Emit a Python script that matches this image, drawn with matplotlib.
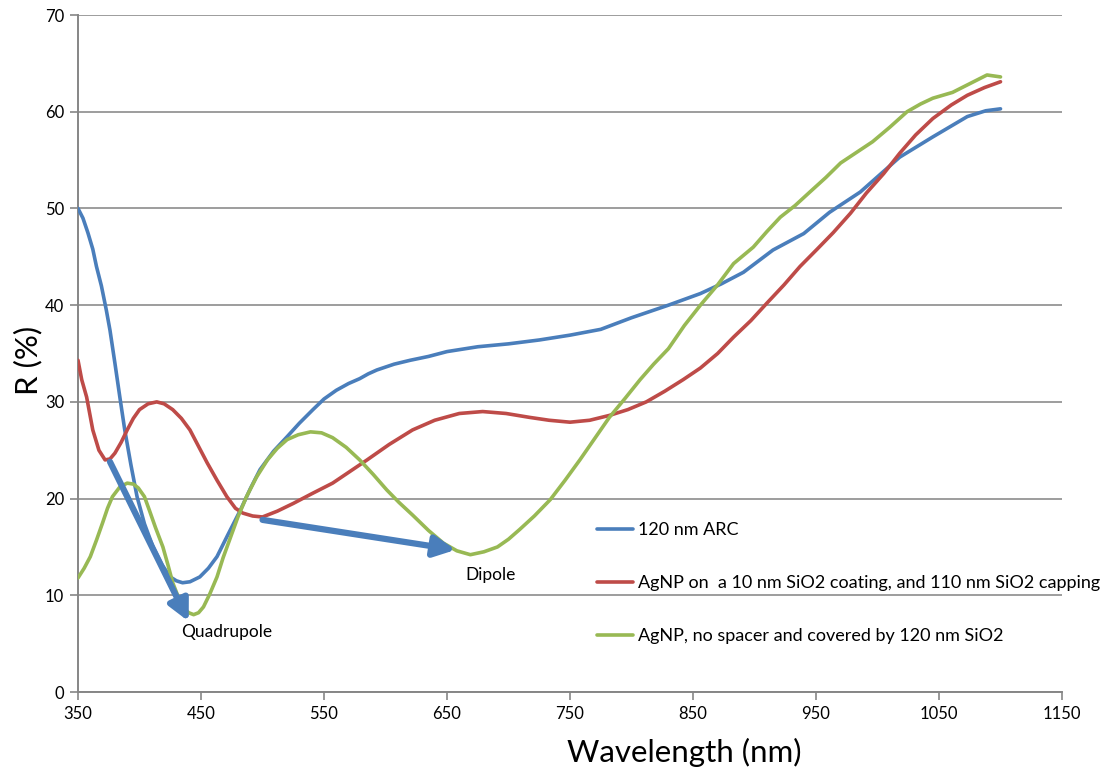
import matplotlib
matplotlib.use("Agg")
import matplotlib.pyplot as plt

plt.rcParams['font.family'] = ['Lato', 'DejaVu Sans']

# ---- data ----
blue_x = [350, 354, 358, 362, 365, 369, 373, 376, 380, 384, 388, 393, 398, 404, 411, 418, 425, 430, 435, 441, 449,
          456, 463, 472, 482, 490, 498, 509, 520, 530, 541, 550, 560, 570, 579, 586, 593,
          607, 620, 635, 650, 675, 700, 725, 750, 775, 800, 830, 856, 873, 891, 915, 940, 961, 986, 1018, 1045,
          1073, 1088, 1100]
blue_y = [50.0, 49.0, 47.5, 45.8, 44.0, 42.0, 39.5, 37.4, 34.0, 30.5, 27.1, 23.5, 20.2, 17.4, 15.0, 13.2, 11.9, 11.5, 11.3, 11.4, 11.9,
          12.8, 14.0, 16.3, 18.8, 21.0, 23.0, 24.9, 26.4, 27.8, 29.2, 30.3, 31.2, 31.9, 32.4, 32.9, 33.3,
          33.9, 34.3, 34.7, 35.2, 35.7, 36.0, 36.4, 36.9, 37.5, 38.7, 40.0, 41.2, 42.2, 43.4, 45.7, 47.4, 49.6, 51.7, 55.3, 57.4,
          59.5, 60.1, 60.3]

red_x = [350, 353, 357, 362, 367, 372, 376, 380, 385, 390, 395, 400, 407, 414, 420, 427, 434, 441, 448, 455, 463, 471,
         478, 484, 492, 500, 512, 525, 540, 557, 571, 585, 603, 622, 640, 660, 679,
         698, 717, 733, 750, 766, 782, 797, 812, 827, 842, 856, 870, 883, 897, 910, 924, 937, 951, 964, 978, 991,
         1005, 1018, 1031, 1045, 1060, 1073, 1087, 1100]
red_y = [34.3, 32.3, 30.5, 27.1, 25.0, 24.0, 24.1, 24.7, 25.8, 27.1, 28.3, 29.2, 29.8, 30.0, 29.8, 29.2, 28.3, 27.1, 25.4, 23.7, 21.9, 20.2,
         19.0, 18.5, 18.2, 18.1, 18.7, 19.5, 20.5, 21.6, 22.8, 24.0, 25.6, 27.1, 28.1, 28.8, 29.0,
         28.8, 28.4, 28.1, 27.9, 28.1, 28.6, 29.2, 30.0, 31.1, 32.3, 33.5, 35.0, 36.7, 38.4, 40.2, 42.1, 44.0, 45.8, 47.5, 49.5, 51.6,
         53.6, 55.7, 57.6, 59.3, 60.7, 61.7, 62.5, 63.1]

green_x = [350, 355, 360, 365, 370, 374, 378, 384, 390, 395, 399, 404, 408, 413, 419, 423, 427, 431, 435, 440, 444,
           448, 452, 457, 463, 468, 474, 480, 487, 495, 504, 512, 520, 529, 539, 548, 557, 568, 579,
           590, 601, 611, 622, 635, 647, 658, 669, 680, 691, 700, 709, 721, 734, 746, 758, 770, 782, 795,
           807, 818, 830, 843, 856, 870, 883, 899, 910, 921, 933, 945, 958, 970, 983, 996, 1010, 1024, 1035,
           1045, 1061, 1075, 1089, 1100]
green_y = [11.8, 12.8, 14.0, 15.7, 17.5, 19.0, 20.2, 21.2, 21.6, 21.5, 21.1, 20.2, 18.8, 17.0, 15.0, 13.2, 11.3, 10.0, 8.8, 8.2, 8.0,
           8.2, 8.8, 10.1, 11.9, 13.9, 16.0, 18.1, 20.2, 22.2, 24.0, 25.2, 26.1, 26.6, 26.9, 26.8, 26.3, 25.3, 24.0,
           22.5, 20.9, 19.6, 18.3, 16.7, 15.4, 14.6, 14.2, 14.5, 15.0, 15.8, 16.8, 18.2, 19.9, 21.9, 24.0, 26.2, 28.4, 30.4,
           32.3, 33.9, 35.5, 37.9, 40.0, 42.1, 44.3, 46.0, 47.6, 49.1, 50.3, 51.7, 53.2, 54.7, 55.8, 56.9, 58.4, 60.0, 60.8,
           61.4, 62.0, 62.9, 63.8, 63.6]

labels = ["120 nm ARC",
          "AgNP on  a 10 nm SiO2 coating, and 110 nm SiO2 capping",
          "AgNP, no spacer and covered by 120 nm SiO2"]
colors = ["#4a7ebb", "#be4b48", "#98b954"]

x_ticks = [350, 450, 550, 650, 750, 850, 950, 1050, 1150]
y_ticks = [0, 10, 20, 30, 40, 50, 60, 70]

quad_start, quad_end = (376, 23.8), (440, 7.3)
dip_start, dip_end = (500, 17.8), (657, 14.7)

# ---- figure ----
fig = plt.figure(figsize=(11.05, 7.78), dpi=100)
ax = fig.add_axes([0.0706, 0.1105, 0.8905, 0.8702])

for xs, ys, c, lab in zip([blue_x, red_x, green_x], [blue_y, red_y, green_y], colors, labels):
    ax.plot(xs, ys, color=c, lw=2.6, label=lab, solid_capstyle='round', solid_joinstyle='round', zorder=3)

ax.set_xlim(350, 1150)
ax.set_ylim(0, 70)
ax.set_xticks(x_ticks)
ax.set_yticks(y_ticks)
ax.tick_params(axis='both', labelsize=12, direction='out', length=6, width=1.2, color='#868686', pad=4)
ax.yaxis.grid(True, color='#8c8c8c', lw=1.2)
ax.set_axisbelow(True)
for s in ['top', 'right']:
    ax.spines[s].set_visible(False)
for s in ['left', 'bottom']:
    ax.spines[s].set_color('#868686')
    ax.spines[s].set_linewidth(1.4)

ax.set_xlabel("Wavelength (nm)", fontsize=22.5)
ax.xaxis.set_label_coords(0.616, -0.068)
ax.set_ylabel("R (%)", fontsize=22.5)
ax.yaxis.set_label_coords(-0.036, 0.49)

arrow_kw = dict(arrowstyle='-|>,head_length=0.9,head_width=0.45', lw=4.5, color='#4a7ebb',
                shrinkA=0, shrinkB=0, mutation_scale=14)
ax.annotate('', xy=quad_end, xytext=quad_start, arrowprops=arrow_kw, zorder=4)
ax.annotate('', xy=dip_end, xytext=dip_start, arrowprops=arrow_kw, zorder=4)
ax.text(471, 6.2, "Quadrupole", fontsize=12.5, ha='center', va='center')
ax.text(685, 12.1, "Dipole", fontsize=12.5, ha='center', va='center')

leg = ax.legend(loc='upper left', bbox_to_anchor=(0.52, 0.262), frameon=False, fontsize=13,
                labelspacing=2.05, handlelength=2.0, handletextpad=0.3, borderaxespad=0)

fig.savefig("out.png", dpi=100)
